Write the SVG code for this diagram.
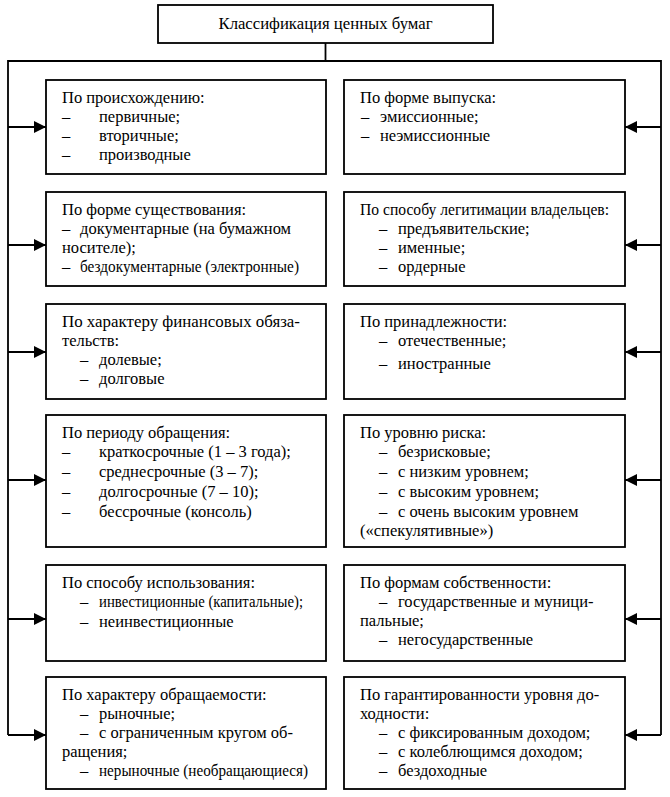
<svg xmlns="http://www.w3.org/2000/svg" width="670" height="797" viewBox="0 0 670 797">
<defs>
<marker id="ah" markerWidth="12" markerHeight="12" refX="12" refY="6" orient="auto" markerUnits="userSpaceOnUse">
<path d="M0,0 L12,6 L0,12 Z" fill="#000"/>
</marker>
<style>
.box{fill:#fff;stroke:#000;stroke-width:1.8}
.ln{fill:none;stroke:#000;stroke-width:1.8}
text{font-family:"Liberation Serif","Times New Roman",serif;font-size:16.5px;fill:#000}
</style>
</defs>
<rect width="670" height="797" fill="#fff"/>
<g id="connectors">
<line class="ln" x1="325.5" y1="43" x2="325.5" y2="61"/>
<polyline class="ln" points="8,735 8,61 661,61 661,735"/>
<line class="ln" x1="8" y1="127" x2="46" y2="127" marker-end="url(#ah)"/>
<line class="ln" x1="8" y1="245" x2="46" y2="245" marker-end="url(#ah)"/>
<line class="ln" x1="8" y1="352" x2="46" y2="352" marker-end="url(#ah)"/>
<line class="ln" x1="8" y1="480" x2="46" y2="480" marker-end="url(#ah)"/>
<line class="ln" x1="8" y1="619" x2="46" y2="619" marker-end="url(#ah)"/>
<line class="ln" x1="8" y1="735" x2="46" y2="735" marker-end="url(#ah)"/>
<line class="ln" x1="661" y1="127" x2="625" y2="127" marker-end="url(#ah)"/>
<line class="ln" x1="661" y1="245" x2="625" y2="245" marker-end="url(#ah)"/>
<line class="ln" x1="661" y1="352" x2="625" y2="352" marker-end="url(#ah)"/>
<line class="ln" x1="661" y1="480" x2="625" y2="480" marker-end="url(#ah)"/>
<line class="ln" x1="661" y1="619" x2="625" y2="619" marker-end="url(#ah)"/>
<line class="ln" x1="661" y1="735" x2="625" y2="735" marker-end="url(#ah)"/>
</g>
<g id="title">
<rect class="box" x="158" y="5" width="335" height="38"/>
<text x="325.5" y="29" text-anchor="middle" textLength="214" lengthAdjust="spacingAndGlyphs">Классификация ценных бумаг</text>
</g>
<g id="n1">
<rect class="box" x="46" y="80" width="280" height="94"/>
<text x="62" y="103">По происхождению:</text>
<text x="62" y="122">–</text><text x="99" y="122">первичные;</text>
<text x="62" y="141">–</text><text x="99" y="141">вторичные;</text>
<text x="62" y="160">–</text><text x="99" y="160">производные</text>
</g>
<g id="n2">
<rect class="box" x="344" y="80" width="281" height="94"/>
<text x="360" y="103">По форме выпуска:</text>
<text x="361" y="122">–</text><text x="380" y="122">эмиссионные;</text>
<text x="361" y="141">–</text><text x="380" y="141">неэмиссионные</text>
</g>
<g id="n3">
<rect class="box" x="46" y="192" width="280" height="94"/>
<text x="62" y="215">По форме существования:</text>
<text x="62" y="234">–</text><text x="80" y="234" textLength="211" lengthAdjust="spacingAndGlyphs">документарные (на бумажном</text>
<text x="62" y="253">носителе);</text>
<text x="62" y="272">–</text><text x="80" y="272" textLength="219" lengthAdjust="spacingAndGlyphs">бездокументарные (электронные)</text>
</g>
<g id="n4">
<rect class="box" x="344" y="192" width="281" height="94"/>
<text x="360" y="215" textLength="249" lengthAdjust="spacingAndGlyphs">По способу легитимации владельцев:</text>
<text x="379" y="234">–</text><text x="398" y="234">предъявительские;</text>
<text x="379" y="253">–</text><text x="398" y="253">именные;</text>
<text x="379" y="272">–</text><text x="398" y="272">ордерные</text>
</g>
<g id="n5">
<rect class="box" x="46" y="304" width="280" height="95"/>
<text x="62" y="327" textLength="238" lengthAdjust="spacingAndGlyphs">По характеру финансовых обяза-</text>
<text x="62" y="346">тельств:</text>
<text x="80" y="365">–</text><text x="99" y="365">долевые;</text>
<text x="80" y="384">–</text><text x="99" y="384">долговые</text>
</g>
<g id="n6">
<rect class="box" x="344" y="304" width="281" height="95"/>
<text x="360" y="327">По принадлежности:</text>
<text x="379" y="346">–</text><text x="398" y="346">отечественные;</text>
<text x="379" y="369">–</text><text x="398" y="369">иностранные</text>
</g>
<g id="n7">
<rect class="box" x="46" y="415" width="280" height="132"/>
<text x="62" y="438">По периоду обращения:</text>
<text x="62" y="457">–</text><text x="99" y="457">краткосрочные (1 – 3 года);</text>
<text x="62" y="477">–</text><text x="99" y="477">среднесрочные (3 – 7);</text>
<text x="62" y="497">–</text><text x="99" y="497">долгосрочные (7 – 10);</text>
<text x="62" y="517">–</text><text x="99" y="517">бессрочные (консоль)</text>
</g>
<g id="n8">
<rect class="box" x="344" y="415" width="281" height="132"/>
<text x="360" y="438">По уровню риска:</text>
<text x="379" y="457">–</text><text x="398" y="457">безрисковые;</text>
<text x="379" y="477">–</text><text x="398" y="477">с низким уровнем;</text>
<text x="379" y="497">–</text><text x="398" y="497">с высоким уровнем;</text>
<text x="379" y="517">–</text><text x="398" y="517">с очень высоким уровнем</text>
<text x="360" y="536">(«спекулятивные»)</text>
</g>
<g id="n9">
<rect class="box" x="46" y="565" width="280" height="96"/>
<text x="62" y="588">По способу использования:</text>
<text x="80" y="607">–</text><text x="99" y="607" textLength="204" lengthAdjust="spacingAndGlyphs">инвестиционные (капитальные);</text>
<text x="80" y="627">–</text><text x="99" y="627">неинвестиционные</text>
</g>
<g id="n10">
<rect class="box" x="344" y="565" width="281" height="96"/>
<text x="360" y="588">По формам собственности:</text>
<text x="379" y="607">–</text><text x="398" y="607">государственные и муници-</text>
<text x="360" y="626">пальные;</text>
<text x="379" y="645">–</text><text x="398" y="645">негосударственные</text>
</g>
<g id="n11">
<rect class="box" x="46" y="677" width="280" height="112"/>
<text x="62" y="700">По характеру обращаемости:</text>
<text x="80" y="719">–</text><text x="99" y="719">рыночные;</text>
<text x="80" y="738">–</text><text x="99" y="738">с ограниченным кругом об-</text>
<text x="62" y="757">ращения;</text>
<text x="80" y="776">–</text><text x="99" y="776" textLength="209" lengthAdjust="spacingAndGlyphs">нерыночные (необращающиеся)</text>
</g>
<g id="n12">
<rect class="box" x="344" y="677" width="281" height="112"/>
<text x="360" y="700">По гарантированности уровня до-</text>
<text x="360" y="719">ходности:</text>
<text x="379" y="738">–</text><text x="398" y="738">с фиксированным доходом;</text>
<text x="379" y="757">–</text><text x="398" y="757">с колеблющимся доходом;</text>
<text x="379" y="776">–</text><text x="398" y="776">бездоходные</text>
</g>
</svg>
